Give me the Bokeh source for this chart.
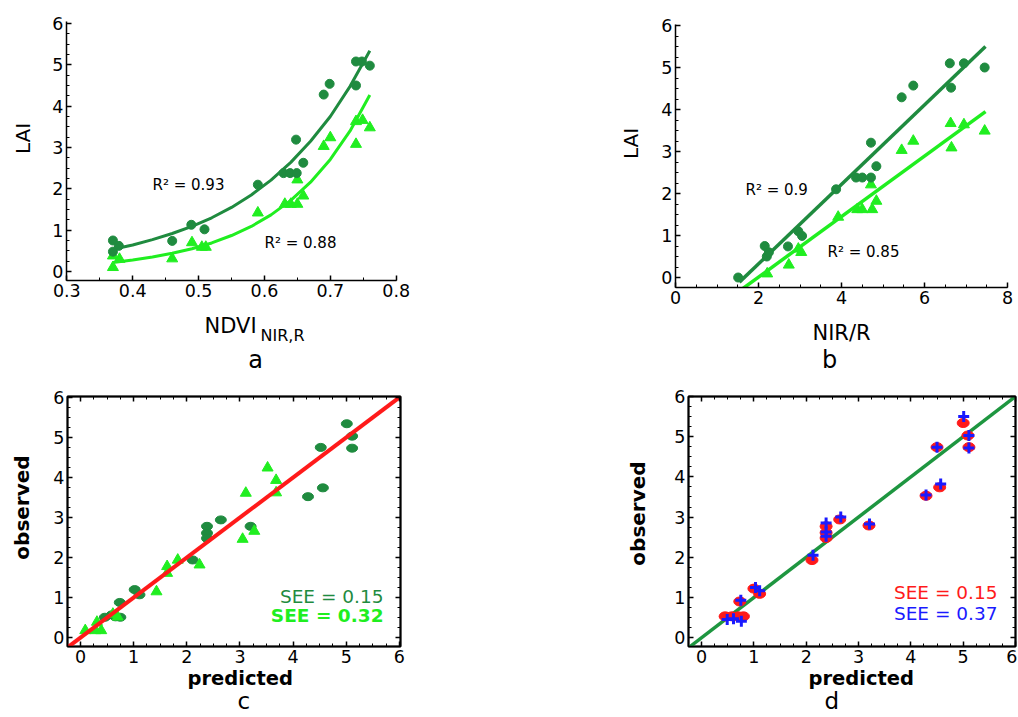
import math
from bokeh.plotting import figure
from bokeh.models import Range1d, LinearAxis, SingleIntervalTicker, Label, Title
from bokeh.layouts import column, row
from bokeh.embed import file_html
from bokeh.resources import INLINE

# ---------------- data ----------------
# panel a : LAI vs NDVI(NIR,R)
a_circ_x = [0.370, 0.370, 0.379, 0.460, 0.489, 0.509, 0.590, 0.629, 0.639, 0.649, 0.648, 0.659, 0.690, 0.699, 0.739, 0.739, 0.748, 0.760]
a_circ_y = [0.75, 0.48, 0.62, 0.74, 1.13, 1.02, 2.10, 2.38, 2.38, 2.38, 3.19, 2.63, 4.28, 4.54, 5.08, 4.50, 5.08, 4.98]
a_tri_x = [0.370, 0.370, 0.380, 0.460, 0.490, 0.505, 0.511, 0.590, 0.631, 0.640, 0.650, 0.650, 0.659, 0.690, 0.700, 0.739, 0.739, 0.749, 0.760]
a_tri_y = [0.10, 0.38, 0.30, 0.31, 0.70, 0.59, 0.59, 1.42, 1.63, 1.63, 1.63, 2.22, 1.83, 3.03, 3.24, 3.08, 3.63, 3.66, 3.48]
a_fit_x = [0.37, 0.40, 0.43, 0.46, 0.49, 0.52, 0.55, 0.58, 0.61, 0.64, 0.67, 0.70, 0.73, 0.76]
a_fit_dark = [0.54, 0.64, 0.77, 0.92, 1.09, 1.30, 1.55, 1.85, 2.21, 2.64, 3.15, 3.75, 4.48, 5.34]
a_fit_light = [0.22, 0.28, 0.35, 0.44, 0.55, 0.69, 0.87, 1.09, 1.37, 1.72, 2.16, 2.71, 3.40, 4.27]

# panel b : LAI vs NIR/R
b_circ_x = [1.51, 2.15, 2.20, 2.25, 2.71, 2.96, 3.05, 3.87, 4.35, 4.50, 4.71, 4.71, 4.84, 5.45, 5.73, 6.61, 6.64, 6.95, 7.45]
b_circ_y = [0.00, 0.75, 0.50, 0.60, 0.74, 1.10, 0.99, 2.10, 2.38, 2.38, 2.38, 3.21, 2.65, 4.29, 4.57, 5.10, 4.52, 5.10, 5.00]
b_tri_x = [2.21, 2.73, 2.96, 3.03, 3.92, 4.38, 4.50, 4.74, 4.71, 4.84, 5.45, 5.73, 6.63, 6.65, 6.95, 7.45]
b_tri_y = [0.09, 0.30, 0.68, 0.60, 1.44, 1.62, 1.62, 1.62, 2.21, 1.82, 3.03, 3.25, 3.67, 3.09, 3.64, 3.49]
b_fit_dark_x = [1.54, 7.47]
b_fit_dark_y = [-0.11, 5.50]
b_fit_light_x = [1.57, 7.47]
b_fit_light_y = [-0.30, 3.95]

# panel c : observed vs predicted
c_circ_x = [5.01, 5.11, 5.11, 4.52, 4.56, 4.28, 2.64, 2.38, 2.38, 2.38, 3.20, 2.11, 1.02, 1.11, 0.74, 0.75, 0.46, 0.59, 0.66]
c_circ_y = [5.34, 5.03, 4.73, 4.75, 3.74, 3.52, 2.94, 2.78, 2.61, 2.48, 2.78, 1.94, 1.20, 1.07, 0.88, 0.51, 0.51, 0.57, 0.52]
c_tri_x = [3.52, 3.68, 3.68, 3.11, 3.05, 3.27, 2.24, 1.83, 1.63, 1.63, 1.43, 0.61, 0.70, 0.31, 0.09, 0.28, 0.39]
c_tri_y = [4.24, 3.93, 3.62, 3.61, 2.46, 2.66, 1.82, 1.94, 1.78, 1.61, 1.15, 0.59, 0.52, 0.39, 0.18, 0.18, 0.18]

# panel d : observed vs predicted
d_circ_x = [5.00, 5.09, 5.11, 4.50, 4.55, 4.29, 2.64, 2.38, 2.38, 2.38, 3.20, 2.11, 1.00, 1.11, 0.73, 0.45, 0.58, 0.70, 0.80]
d_circ_y = [5.34, 5.03, 4.74, 4.74, 3.74, 3.53, 2.94, 2.77, 2.61, 2.48, 2.79, 1.93, 1.22, 1.09, 0.90, 0.53, 0.53, 0.53, 0.53]
d_cross_x = [5.01, 5.11, 5.11, 4.50, 4.57, 4.29, 2.66, 2.38, 2.38, 2.38, 3.21, 2.13, 1.03, 1.11, 0.75, 0.49, 0.61, 0.76]
d_cross_y = [5.50, 5.03, 4.72, 4.74, 3.82, 3.55, 3.00, 2.85, 2.63, 2.52, 2.83, 2.05, 1.25, 1.17, 0.93, 0.45, 0.47, 0.41]

one_to_one = [-0.3, 6.05]

# ---------------- styling ----------------
FONT = "DejaVu Sans"
DARK = "#1f8b3f"
LIGHT = "#20ee20"
RED = "#ff1a1a"
BLUE = "#1a1aff"
LINE_D = "#1e9640"
BASE = 0.36  # baseline correction (fraction of font size)


def style_axis(ax, interval, minor, labels=True):
    ax.ticker = SingleIntervalTicker(interval=interval, num_minor_ticks=minor)
    ax.axis_line_color = "black"
    ax.axis_line_width = 1.5
    ax.major_tick_in = 5
    ax.major_tick_out = 0
    ax.minor_tick_in = 3
    ax.minor_tick_out = 0
    ax.major_tick_line_color = "black"
    ax.minor_tick_line_color = "black"
    ax.major_tick_line_width = 1.5
    ax.minor_tick_line_width = 1
    ax.axis_label = None
    if labels:
        ax.major_label_text_font = FONT
        ax.major_label_text_font_size = "17.5px"
        ax.major_label_text_color = "black"
        ax.major_label_standoff = 3
    else:
        ax.major_label_text_font_size = "0px"
        ax.major_label_text_alpha = 0
        ax.major_label_standoff = 0


def make_fig(w, h, bl, br, bt, bb, xr, yr, xint, xminor, yint, yminor, box=False):
    p = figure(width=w, height=h, x_range=Range1d(*xr), y_range=Range1d(*yr),
               output_backend="svg", toolbar_location=None,
               min_border_left=bl, min_border_right=br,
               min_border_top=bt, min_border_bottom=bb)
    p.xgrid.visible = False
    p.ygrid.visible = False
    p.background_fill_color = "white"
    p.border_fill_color = "white"
    style_axis(p.xaxis[0], xint, xminor)
    style_axis(p.yaxis[0], yint, yminor)
    if box:
        p.outline_line_color = "black"
        p.outline_line_width = 2
        p.outline_line_alpha = 1
        top = LinearAxis()
        right = LinearAxis()
        style_axis(top, xint, xminor, labels=False)
        style_axis(right, yint, yminor, labels=False)
        p.add_layout(top, "above")
        p.add_layout(right, "right")
    else:
        p.outline_line_color = None
    return p


def strip(w, h):
    """A text-only canvas: no axes."""
    s = figure(width=w, height=h, x_range=Range1d(0, 1), y_range=Range1d(0, 1),
               output_backend="svg", toolbar_location=None,
               x_axis_location=None, y_axis_location=None,
               min_border=0, min_border_left=0, min_border_right=0,
               min_border_top=0, min_border_bottom=0)
    s.outline_line_color = None
    s.xgrid.visible = False
    s.ygrid.visible = False
    s.background_fill_color = "white"
    s.border_fill_color = "white"
    return s


def lab(p, x, y, text, size, color="black", bold=False, align="left", angle=None):
    if angle is None:
        p.add_layout(Label(x=x, y=y + BASE * size, x_units="screen", y_units="screen", text=text,
                           text_font=FONT, text_font_size=f"{size}px", text_color=color,
                           text_font_style="bold" if bold else "normal",
                           text_align=align, text_baseline="alphabetic"))
    else:
        p.add_layout(Label(x=x, y=y, x_units="screen", y_units="screen", text=text,
                           text_font=FONT, text_font_size=f"{size}px", text_color=color,
                           text_font_style="bold" if bold else "normal",
                           text_align="center", text_baseline="middle", angle=angle))


def below_title(p, text, size, offset, bold=False, standoff=0):
    p.add_layout(Title(text=text, align="left", offset=offset, standoff=standoff,
                       text_font=FONT, text_font_size=f"{size}px", text_color="black",
                       text_font_style="bold" if bold else "normal"), "below")


# ---------------- panel a ----------------
ca = make_fig(469, 310, 26, 113, 21, 30, (0.2995, 0.8005), (-0.218, 6.048), 0.1, 2, 1, 4)
ca.line(a_fit_x, a_fit_dark, line_color=DARK, line_width=3)
ca.line(a_fit_x, a_fit_light, line_color=LIGHT, line_width=3)
ca.scatter(a_tri_x, a_tri_y, marker="triangle", size=11, fill_color=LIGHT, line_color=LIGHT)
ca.scatter(a_circ_x, a_circ_y, marker="circle", size=9, fill_color=DARK, line_color=DARK)
lab(ca, 86, 90, "R² = 0.93", 15)
lab(ca, 198, 32, "R² = 0.88", 15)

la = strip(40, 375)
lab(la, 22, 237, "LAI", 20, angle=math.pi / 2)
ba = strip(469, 65)
lab(ba, 138, 42, "NDVI", 21)
lab(ba, 194, 34, "NIR,R", 16)
lab(ba, 189, 7, "a", 24, align="center")

# ---------------- panel b ----------------
cb = make_fig(367, 314, 25, 10, 24, 27, (0, 8), (-0.238, 6.024), 2, 4, 1, 4)
cb.line(b_fit_dark_x, b_fit_dark_y, line_color=DARK, line_width=3.5)
cb.line(b_fit_light_x, b_fit_light_y, line_color=LIGHT, line_width=3.5)
cb.scatter(b_tri_x, b_tri_y, marker="triangle", size=11, fill_color=LIGHT, line_color=LIGHT)
cb.scatter(b_circ_x, b_circ_y, marker="circle", size=9, fill_color=DARK, line_color=DARK)
lab(cb, 70, 92, "R² = 0.9", 15)
lab(cb, 152, 30, "R² = 0.85", 15)

lb = strip(141, 375)
lab(lb, 121, 232, "LAI", 20, angle=math.pi / 2)
bb = strip(367, 61)
lab(bb, 166, 35, "NIR/R", 21, align="center")
lab(bb, 154, 7, "b", 24, align="center")

# ---------------- panel c ----------------
cc = make_fig(467, 341, 25, 109, 17, 70, (-0.244, 6.02), (-0.22, 6.02), 1, 4, 1, 4, box=True)
cc.ellipse(c_circ_x, c_circ_y, width=11, height=8, width_units="screen", height_units="screen",
           fill_color=DARK, line_color=DARK)
cc.scatter(c_tri_x, c_tri_y, marker="triangle", size=11, fill_color=LIGHT, line_color=LIGHT)
cc.line(one_to_one, one_to_one, line_color=RED, line_width=4)
lab(cc, 316, 43, "SEE = 0.15", 18.5, color=DARK, align="right")
lab(cc, 316, 24, "SEE = 0.32", 18.5, color=LIGHT, bold=True, align="right")
below_title(cc, "predicted", 19.5, 120, bold=True, standoff=-2)
below_title(cc, "c", 23, 170, standoff=-5)

# this strip's frame is aligned with panel c's frame (392..646)
lc = strip(42, 341)
lab(lc, 21, 139, "observed", 20, bold=True, angle=math.pi / 2)

# ---------------- panel d ----------------
cd = make_fig(357, 341, 28, 2, 21, 69, (-0.25, 6.0), (-0.22, 6.0), 1, 4, 1, 4, box=True)
cd.line(one_to_one, one_to_one, line_color=LINE_D, line_width=3.5)
cd.ellipse(d_circ_x, d_circ_y, width=12, height=9, width_units="screen", height_units="screen",
           fill_color=RED, line_color=RED)
cd.scatter(d_cross_x, d_cross_y, marker="cross", size=11, line_color=BLUE, line_width=3)
lab(cd, 309, 47, "SEE = 0.15", 18.5, color=RED, align="right")
lab(cd, 309, 26, "SEE = 0.37", 18.5, color=BLUE, align="right")
below_title(cd, "predicted", 19.5, 120, bold=True, standoff=-2)
below_title(cd, "d", 23, 136, standoff=-5)

# this strip's frame is aligned with panel d's frame (396..647)
ld = strip(151, 341)
lab(ld, 128, 133, "observed", 20, bold=True, angle=math.pi / 2)

layout = column(
    row(la, column(ca, ba), lb, column(cb, bb)),
    row(lc, cc, ld, cd),
)
open("out.html", "w").write(file_html(layout, INLINE))
